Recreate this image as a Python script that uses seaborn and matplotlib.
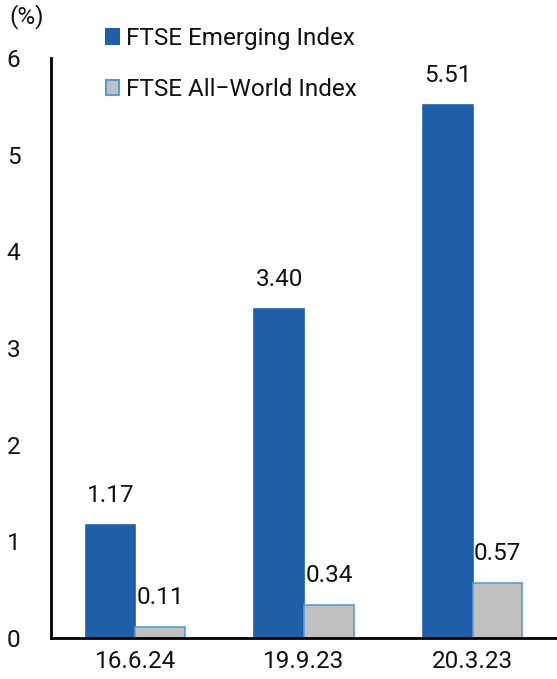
import pandas as pd
import matplotlib.pyplot as plt
import seaborn as sns

# data
dates = ['16.6.24', '19.9.23', '20.3.23']
emerging = [1.17, 3.40, 5.51]
all_world = [0.11, 0.34, 0.57]
series = ['FTSE Emerging Index', 'FTSE All\u2212World Index']

df = pd.DataFrame({'Date': dates, series[0]: emerging, series[1]: all_world})
melted_df = df.melt(id_vars='Date', value_vars=series, var_name='Index', value_name='Value')

sns.set_style('white')
plt.rcParams['font.family'] = ['Roboto', 'DejaVu Sans']

fig = plt.figure(figsize=(5.57, 6.79), dpi=100)
ax = fig.add_axes([0.0916, 0.0604, 0.9084, 0.8542])

palette = ['#1F5EA8', '#C0C0C0']
sns.barplot(data=melted_df, x='Date', y='Value', hue='Index', palette=palette,
            width=0.59, gap=0, saturation=1, ax=ax, legend=False)

edge_cols = ['#1F5EA8', '#5B9BD5']
for cont, ec in zip(ax.containers, edge_cols):
    for bar in cont:
        bar.set_edgecolor(ec)
        bar.set_linewidth(1.2)
    ax.bar_label(cont, fmt='%.2f', padding=13, fontsize=17.5, color='#111111')

ax.set_ylim(0, 6)
ax.set_xlim(-0.5, 2.5)
ax.set_yticks(range(0, 7))
ax.set_xlabel('')
ax.set_ylabel('')
ax.set_xticks([0.5, 1.5], minor=True)
ax.tick_params(axis='x', which='major', length=0, labelsize=17.5, pad=9, labelcolor='#111111')
ax.tick_params(axis='x', which='minor', direction='in', length=7, width=1.2)
ax.tick_params(axis='y', direction='in', length=7, width=1.2, labelsize=17.5, pad=22, labelcolor='#111111')
for s in ['top', 'right']:
    ax.spines[s].set_visible(False)
for s in ['left', 'bottom']:
    ax.spines[s].set_linewidth(2)
    ax.spines[s].set_color('black')

fig.text(0.016, 0.994, '(%)', fontsize=17.5, va='top', ha='left', color='#111111')

# legend
handles = [plt.Rectangle((0, 0), 1, 1, facecolor=palette[i], edgecolor=edge_cols[i], linewidth=1.5)
           for i in range(2)]
fig.legend(handles, series, loc='upper left', bbox_to_anchor=(0.172, 0.974), frameon=False,
           fontsize=17.5, handlelength=0.55, handleheight=0.55, handletextpad=0.3,
           labelspacing=1.15, borderaxespad=0, labelcolor='#111111')

plt.savefig('out.png', dpi=100)
